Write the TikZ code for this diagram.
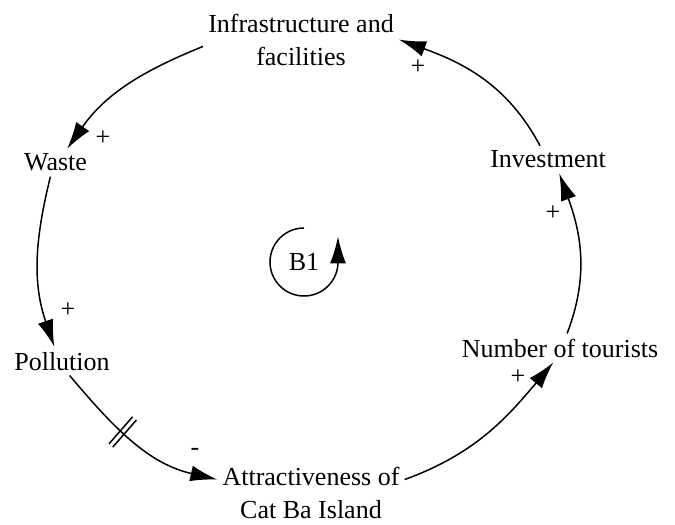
\documentclass[tikz,border=0pt]{standalone}
\usepackage{fontspec}
\setmainfont{Liberation Serif}
\usetikzlibrary{arrows.meta,decorations.markings}

\tikzset{
  var/.style={font=\fontsize{26}{33}\selectfont,inner sep=5pt,align=center},
  sign/.style={font=\fontsize{26}{33}\selectfont,inner sep=0pt},
  link/.style={line width=1.5pt,-{Latex[length=27pt,width=16pt]}},
  delaymark/.style={postaction={decorate},decoration={markings,
    mark=at position #1 with {\draw[arrows=-,line width=1.5pt] (-2.5pt,-18pt)--(-2.5pt,18pt) (2.5pt,-18pt)--(2.5pt,18pt);}}}
}

\begin{document}
\begin{tikzpicture}[line join=round]
\useasboundingbox (0,0) rectangle (23.723,18.416);
% variables
\node[var] (infra) at (10.579,17.025) {Infrastructure and\\facilities};
\node[var,anchor=base] (waste) at (1.951,12.407) {Waste};
\node[var,anchor=base] (inv) at (19.260,12.512) {Investment};
\node[var,anchor=base] (poll) at (2.179,5.412) {Pollution};
\node[var,anchor=base] (tour) at (19.682,5.869) {Number of tourists};
\node[var] (attr) at (10.930,1.100) {Attractiveness of\\Cat Ba Island};
\node[var] (b1) at (10.684,9.208) {B1};
% links
\draw[link] (inv.120) to[out=118,in=-20] (infra.east);
\draw[link] (infra.184) to[out=202,in=55] (waste.50);
\draw[link] (waste.250) to[out=256,in=109] (poll.118);
\draw[link,delaymark=0.42] (poll.298) to[out=-50,in=167] (attr.172);
\draw[link] (attr.8) to[out=20,in=230] (tour.245);
\draw[link] (tour.64) to[out=69,in=-70] (inv.309);
% loop marker
\draw[link] (b1.center) ++(90:1.195) arc[start angle=90,end angle=360,radius=1.195] -- ++(0,0.9);
% polarities
\node[sign] (s1) at (14.691,16.062) {+};
\node[sign] (s2) at (3.620,13.566) {+};
\node[sign] (s3) at (2.390,7.521) {+};
\node[sign] (s4) at (6.853,2.531) {-};
\node[sign] (s5) at (18.206,5.166) {+};
\node[sign] (s6) at (19.436,10.930) {+};
\end{tikzpicture}
\end{document}
